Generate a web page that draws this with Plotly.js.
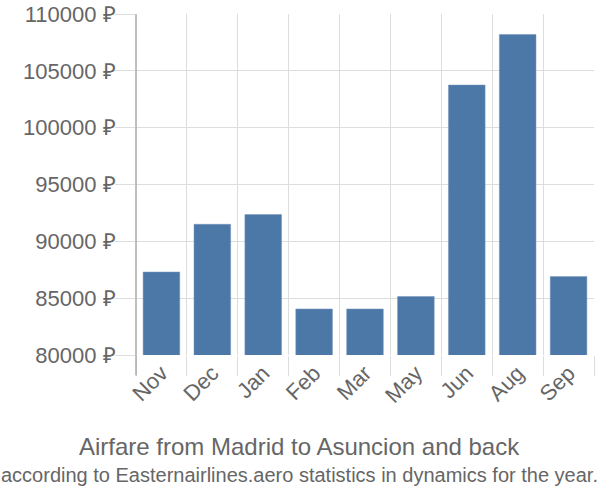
<!DOCTYPE html>
<html>
<head>
<meta charset="utf-8">
<script src="https://cdn.plot.ly/plotly-3.0.1.min.js"></script>
<style>html,body{margin:0;padding:0;background:#fff;}#chart{width:600px;height:500px;}</style>
</head>
<body>
<div id="chart"></div>
<script>
const months = ["Nov", "Dec", "Jan", "Feb", "Mar", "May", "Jun", "Aug", "Sep"];
const prices = [87300, 91500, 92350, 84050, 84050, 85150, 103750, 108200, 86900];
const yTicks = [80000, 85000, 90000, 95000, 100000, 105000, 110000];
const titleText = "Airfare from Madrid to Asuncion and back";
const subtitleText = "according to Easternairlines.aero statistics in dynamics for the year.";

const trace = {
  type: "bar",
  x: months,
  y: prices,
  marker: {color: "#4c78a8", line: {color: "#7895bb", width: 0.5}},
  hoverinfo: "none"
};

const layout = {
  width: 600, height: 500,
  margin: {l: 136, r: 6, t: 14, b: 145},
  paper_bgcolor: "#fff", plot_bgcolor: "#fff",
  bargap: 0.28,
  showlegend: false,
  font: {family: "Liberation Sans, Arial, sans-serif", color: "#666"},
  xaxis: {
    type: "category",
    tickson: "boundaries",
    ticks: "outside", ticklen: 20, tickcolor: "#ddd", tickwidth: 1,
    showgrid: true, gridcolor: "#ddd", gridwidth: 1,
    tickangle: -45,
    tickfont: {size: 22, color: "#666"},
    showline: false, zeroline: false,
    range: [-0.5, 8.5]
  },
  yaxis: {
    range: [80000, 110000],
    tickvals: yTicks,
    ticktext: yTicks.map(v => v + " ₽"),
    ticks: "outside", ticklen: 20, tickcolor: "#ddd", tickwidth: 1,
    ticklabelstandoff: -5,
    showgrid: true, gridcolor: "#ddd", gridwidth: 1,
    tickfont: {size: 22, color: "#666"},
    showline: false, zeroline: false
  },
  shapes: [
    {type: "line", xref: "paper", yref: "paper", x0: 0, x1: 0, y0: -0.06, y1: 1,
     line: {color: "#aaa", width: 1.5}}
  ],
  annotations: [
    {text: titleText, xref: "paper", yref: "paper", x: 0.358, y: -0.267,
     xanchor: "center", yanchor: "middle", showarrow: false,
     font: {size: 24, color: "#666"}},
    {text: subtitleText, xref: "paper", yref: "paper", x: 0.358, y: -0.352,
     xanchor: "center", yanchor: "middle", showarrow: false,
     font: {size: 20, color: "#666"}}
  ]
};

Plotly.newPlot("chart", [trace], layout, {displayModeBar: false, staticPlot: true});
</script>
</body>
</html>
